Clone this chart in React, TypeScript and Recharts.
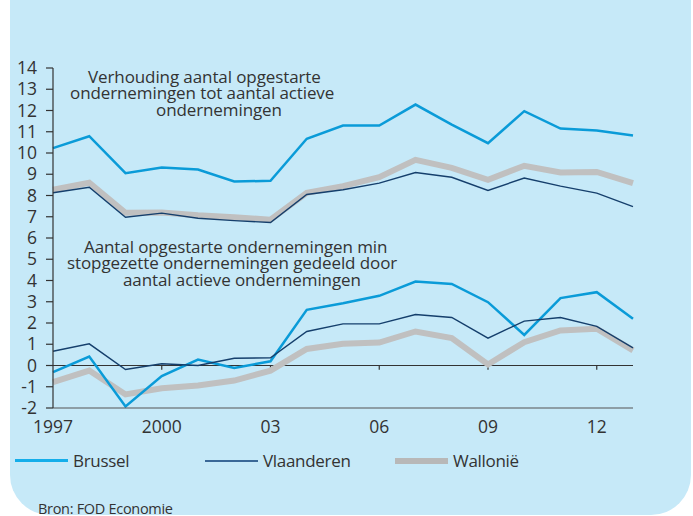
import { LineChart, Line, XAxis, YAxis, ReferenceLine } from 'recharts';

const years = [1997, 1998, 1999, 2000, 2001, 2002, 2003, 2004, 2005, 2006, 2007, 2008, 2009, 2010, 2011, 2012, 2013];

// verhouding opgestarte / actieve ondernemingen (%)
const brusselRatio = [10.23, 10.79, 9.05, 9.32, 9.22, 8.66, 8.69, 10.67, 11.29, 11.29, 12.28, 11.34, 10.46, 11.97, 11.15, 11.06, 10.82];
const vlaanderenRatio = [8.13, 8.39, 6.98, 7.17, 6.93, 6.82, 6.73, 8.05, 8.27, 8.58, 9.08, 8.86, 8.24, 8.82, 8.44, 8.11, 7.48];
const wallonieRatio = [8.27, 8.6, 7.19, 7.2, 7.07, 6.98, 6.86, 8.13, 8.44, 8.86, 9.68, 9.3, 8.74, 9.4, 9.08, 9.11, 8.58];

// netto: opgestarte min stopgezette / actieve (%)
const brusselNet = [-0.31, 0.42, -1.93, -0.5, 0.28, -0.12, 0.2, 2.62, 2.93, 3.28, 3.95, 3.84, 2.98, 1.44, 3.17, 3.45, 2.2];
const vlaanderenNet = [0.67, 1.02, -0.19, 0.08, 0, 0.34, 0.36, 1.6, 1.96, 1.96, 2.4, 2.26, 1.29, 2.09, 2.26, 1.84, 0.83];
const wallonieNet = [-0.78, -0.24, -1.36, -1.07, -0.94, -0.71, -0.24, 0.78, 1.02, 1.08, 1.6, 1.29, 0.05, 1.1, 1.65, 1.73, 0.71];

const xTicks = [1997, 2000, 2003, 2006, 2009, 2012];
const xTickLabels = ['1997', '2000', '03', '06', '09', '12'];
const yTicks = [-2, -1, 0, 1, 2, 3, 4, 5, 6, 7, 8, 9, 10, 11, 12, 13, 14];

const ratioNote = ['Verhouding aantal opgestarte', 'ondernemingen tot aantal actieve', 'ondernemingen'];
const netNote = ['Aantal opgestarte ondernemingen min', 'stopgezette ondernemingen gedeeld door', 'aantal actieve ondernemingen'];

const BLUE = '#0a9bd8';
const NAVY = '#153f6c';
const GREY = '#c0c0c0';
const TEXT = '#333333';
const FONT = '"Open Sans", "Noto Sans", sans-serif';

const legendItems = [
  { name: 'Brussel', color: '#14aeea', width: 3 },
  { name: 'Vlaanderen', color: '#3a6897', width: 2 },
  { name: 'Wallonië', color: '#b8b8b8', width: 6 },
];

function Note({ lines, left, top, indents }: { lines: string[]; left: number; top: number; indents: number[] }) {
  return (
    <div
      style={{
        position: 'absolute', left, top, fontFamily: FONT, fontSize: 17, lineHeight: '16.5px',
        letterSpacing: -0.1, color: TEXT, whiteSpace: 'nowrap',
      }}
    >
      {lines.map((l, i) => (
        <span key={i} style={{ display: 'block', paddingLeft: indents[i] }}>{l}</span>
      ))}
    </div>
  );
}

export default function App() {
  const data = years.map((y, i) => ({
    year: y,
    brusselRatio: brusselRatio[i],
    vlaanderenRatio: vlaanderenRatio[i],
    wallonieRatio: wallonieRatio[i],
    brusselNet: brusselNet[i],
    vlaanderenNet: vlaanderenNet[i],
    wallonieNet: wallonieNet[i],
  }));

  return (
    <div style={{ position: 'absolute', left: 0, top: 0, width: 693, height: 516, overflow: 'hidden', background: '#fff' }}>
      <div
        style={{
          position: 'absolute', left: 10, top: -40, width: 681, height: 555,
          background: '#c6e9f8', borderRadius: '0 0 40px 40px',
        }}
      />
      <div style={{ position: 'absolute', left: 0, top: 0 }}>
        <LineChart width={693} height={516} data={data} margin={{ top: 68, right: 60, bottom: 68, left: 0 }}>
          <XAxis
            dataKey="year"
            type="number"
            domain={[1997, 2013]}
            ticks={xTicks}
            tickFormatter={(v) => xTickLabels[xTicks.indexOf(v)]}
            tickLine={false}
            tickSize={0}
            tickMargin={13}
            axisLine={{ stroke: '#555', strokeWidth: 1.2 }}
            tick={{ fontSize: 17.5, fill: TEXT, fontFamily: FONT }}
            height={40}
          />
          <YAxis
            type="number"
            domain={[-2, 14]}
            ticks={yTicks}
            interval={0}
            width={53}
            tickSize={7}
            tickMargin={9}
            tickLine={{ stroke: '#333', strokeWidth: 1.2 }}
            axisLine={{ stroke: '#333', strokeWidth: 1.2 }}
            tick={{ fontSize: 17.5, fill: TEXT, fontFamily: FONT }}
          />
          <ReferenceLine y={0} stroke="#333" strokeWidth={1.2} />
          {xTicks.slice(1).map((t) => (
            <ReferenceLine
              key={t}
              segment={[{ x: t, y: 0 }, { x: t, y: -0.2 }]}
              stroke="#333"
              strokeWidth={1.2}
            />
          ))}
          <Line dataKey="wallonieRatio" stroke={GREY} strokeWidth={6} dot={false} isAnimationActive={false} />
          <Line dataKey="wallonieNet" stroke={GREY} strokeWidth={6} dot={false} isAnimationActive={false} />
          <Line dataKey="brusselRatio" stroke={BLUE} strokeWidth={2.5} dot={false} isAnimationActive={false} />
          <Line dataKey="brusselNet" stroke={BLUE} strokeWidth={2.5} dot={false} isAnimationActive={false} />
          <Line dataKey="vlaanderenRatio" stroke={NAVY} strokeWidth={1.4} dot={false} isAnimationActive={false} />
          <Line dataKey="vlaanderenNet" stroke={NAVY} strokeWidth={1.4} dot={false} isAnimationActive={false} />
        </LineChart>
      </div>
      <Note lines={ratioNote} left={70} top={68.5} indents={[18, 0, 86]} />
      <Note lines={netNote} left={67} top={238.5} indents={[17, 0, 56]} />
      <div style={{ position: 'absolute', left: 15, top: 449, display: 'flex', fontFamily: FONT, fontSize: 17, letterSpacing: -0.3, color: TEXT }}>
        {legendItems.map((it) => (
          <div key={it.name} style={{ display: 'flex', alignItems: 'center', width: 190 }}>
            <div style={{ width: 53, height: it.width, background: it.color, marginRight: 5 }} />
            <span>{it.name}</span>
          </div>
        ))}
      </div>
      <div style={{ position: 'absolute', left: 38, top: 499, fontFamily: FONT, fontSize: 14.5, letterSpacing: -0.3, color: TEXT }}>
        Bron: FOD Economie
      </div>
    </div>
  );
}
